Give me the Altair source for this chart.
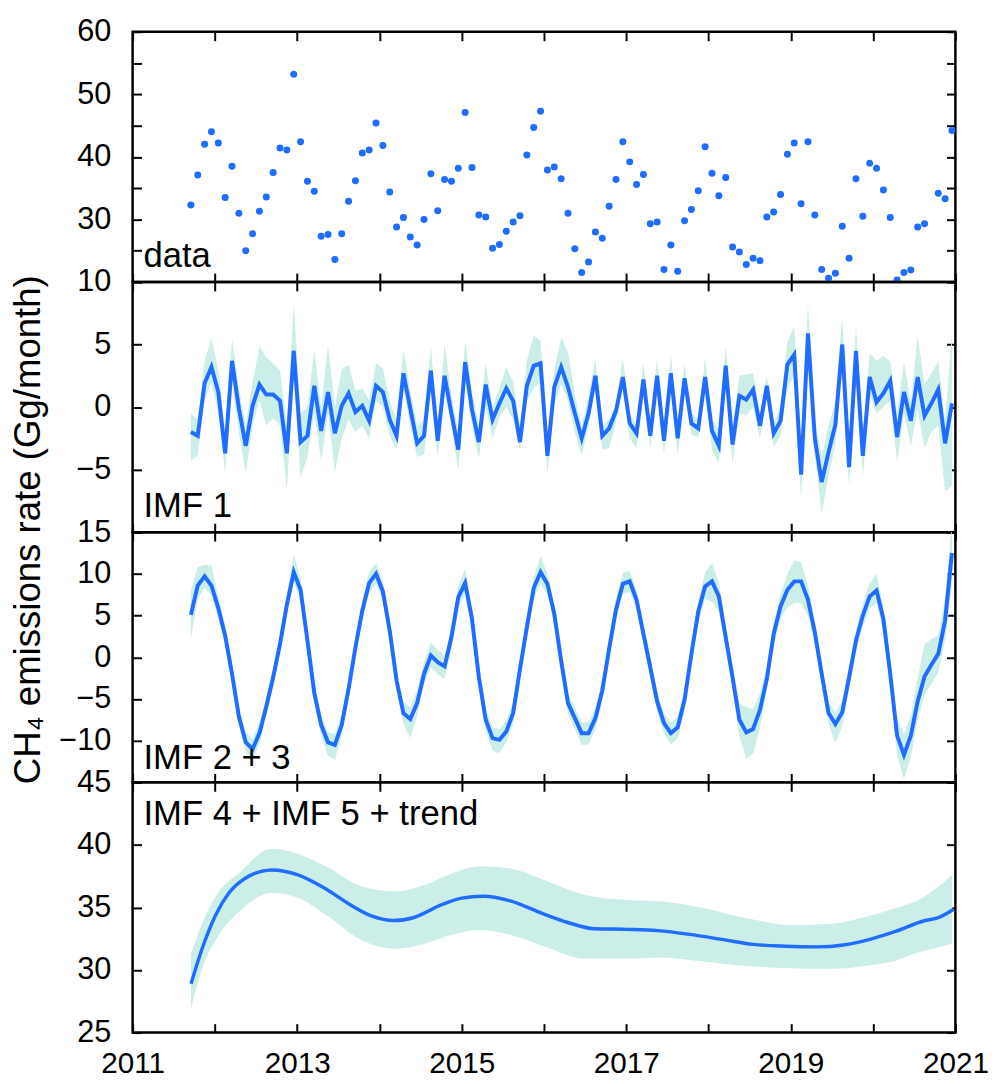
import altair as alt
import pandas as pd

# ---------------- data ----------------
N_MONTHS = 112  # Sep 2011 .. Dec 2020
months = pd.date_range("2011-09-01", periods=N_MONTHS, freq="MS")
t_dec = [d.year + (d.month - 0.5) / 12 for d in months]

data_vals = [
    32.3, 37.1, 42.0, 44.0, 42.2, 33.5, 38.5, 31.0, 25.0, 27.7,
    31.3, 33.6, 37.5, 41.4, 41.1, 53.2, 42.4, 36.1, 34.5, 27.3,
    27.6, 23.6, 27.7, 32.9, 36.2, 40.6, 41.1, 45.4, 41.8, 34.4,
    28.8, 30.3, 27.2, 25.9, 30.0, 37.3, 31.4, 36.4, 36.1, 38.2,
    47.1, 38.3, 30.7, 30.4, 25.4, 26.0, 28.1, 29.6, 30.6, 40.3,
    44.7, 47.3, 37.9, 38.4, 36.5, 31.0, 25.3, 21.5, 23.2, 28.0,
    27.0, 32.1, 36.4, 42.4, 39.2, 35.6, 37.2, 29.3, 29.6, 22.0,
    25.9, 21.7, 29.8, 31.6, 34.6, 41.6, 37.4, 33.8, 36.7, 25.6,
    24.8, 22.8, 23.8, 23.4, 30.4, 31.2, 34.0, 40.4, 42.2, 32.5,
    42.4, 30.7, 22.0, 20.6, 21.4, 28.9, 23.8, 36.5, 30.5, 39.0,
    38.2, 34.7, 30.3, 20.3, 21.5, 21.9, 28.8, 29.3, None, 34.2,
    33.3, 44.2,
]

imf1 = [
    -2.0, -2.3, 1.9, 3.2, 1.2, -3.7, 3.7, -0.1, -3.1, 0.1,
    1.8, 1.0, 1.0, 0.5, -3.7, 4.5, -2.8, -2.3, 1.7, -1.9,
    1.2, -2.1, 0.1, 1.1, -0.4, 0.1, -1.1, 1.7, 1.2, -1.0,
    -2.3, 2.7, -0.1, -2.9, -2.3, 2.9, -2.7, 2.5, -0.5, -3.4,
    3.6, -0.2, -2.8, 1.8, -1.0, 0.3, 1.5, 0.5, -2.8, 1.7,
    3.3, 3.5, -3.9, 1.6, 3.2, 1.6, -0.5, -2.5, -0.5, 2.5,
    -2.3, -1.7, -0.3, 2.4, -1.3, -2.1, 2.2, -2.3, 2.5, -2.7,
    2.7, -2.5, 2.3, -1.3, -1.7, 2.4, -1.9, -3.1, 3.3, -3.0,
    0.9, 0.6, 1.4, -1.5, 1.7, -2.1, -1.1, 3.4, 4.2, -5.4,
    5.9, -2.5, -6.0, -3.6, -1.4, 5.0, -4.8, 4.5, -3.9, 2.4,
    0.4, 1.1, 2.1, -2.4, 1.2, -1.1, 2.4, -0.7, 0.3, 1.4,
    -2.9, 0.3,
]
imf1_hi = [
    -0.5, -1.0, 3.7, 5.5, 3.0, -2.0, 5.5, 1.5, -1.5, 2.0,
    4.8, 4.0, 3.5, 2.9, -1.5, 8.3, -0.5, 0.0, 4.6, 0.0,
    4.9, 0.0, 3.0, 3.4, 1.3, 1.5, 0.5, 3.5, 3.1, 0.5,
    -1.0, 4.6, 1.4, -1.5, -1.0, 4.9, -1.5, 5.0, 1.0, -2.0,
    5.3, 1.3, -1.5, 3.5, 0.0, 1.5, 3.2, 2.0, -1.5, 3.7,
    5.7, 5.3, -2.5, 3.0, 5.5, 4.4, 1.0, -1.5, 0.8, 3.9,
    -1.5, -1.0, 0.2, 3.9, -0.5, -1.5, 3.6, -1.5, 3.9, -1.8,
    4.2, -1.5, 3.5, -0.5, -1.0, 3.9, -1.0, -1.8, 4.9, -1.5,
    2.5, 2.6, 2.7, -0.5, 2.5, -1.3, 0.0, 5.2, 6.5, -3.0,
    8.2, -1.0, -4.0, -1.5, 0.5, 7.3, -3.0, 6.4, -2.0, 4.3,
    3.7, 4.1, 3.6, -0.5, 3.6, 0.3, 5.7, 1.8, 2.7, 3.6,
    -1.0, 5.9,
]
imf1_lo = [
    -4.3, -3.9, 0.5, 2.0, -0.5, -5.3, 2.0, -2.0, -5.3, -1.5,
    0.5, -1.5, -0.9, -1.5, -6.6, 2.5, -5.6, -4.0, -0.5, -4.3,
    -0.5, -5.2, -2.5, -1.0, -2.0, -1.5, -2.5, 0.5, 0.0, -2.3,
    -3.4, 1.5, -1.5, -4.0, -3.8, 1.3, -4.0, 1.0, -1.5, -5.1,
    2.0, -1.5, -4.1, 0.0, -2.5, -0.8, 0.0, -1.0, -3.5, 0.5,
    1.5, 2.0, -5.3, 0.3, 1.8, 0.5, -2.0, -3.9, -1.5, 1.5,
    -3.4, -3.3, -1.2, 1.5, -2.5, -3.3, 1.0, -3.4, 1.2, -3.8,
    1.5, -3.8, 1.0, -2.2, -2.4, 1.0, -3.4, -4.6, 1.5, -4.5,
    -0.5, -0.7, 0.0, -2.5, 0.8, -3.2, -2.3, 1.5, 2.5, -7.4,
    3.5, -4.0, -8.5, -5.5, -3.0, 3.0, -6.3, 2.5, -5.6, 1.0,
    -0.5, 0.0, 0.5, -4.4, -0.5, -3.1, -0.2, -3.3, -2.0, -1.5,
    -6.7, -6.3,
]

imf23 = [
    5.1, 8.6, 9.7, 8.6, 5.9, 2.6, -2.0, -7.1, -10.2, -11.0,
    -9.1, -5.9, -2.4, 1.6, 6.3, 10.2, 8.1, 2.0, -4.3, -8.1,
    -10.2, -10.5, -8.1, -3.8, 1.2, 5.6, 8.9, 10.0, 7.9, 3.2,
    -2.8, -6.7, -7.4, -5.5, -2.0, 0.2, -0.6, -1.1, 2.4, 7.2,
    8.9, 4.6, -2.4, -7.5, -9.7, -9.9, -8.9, -6.7, -1.4, 3.6,
    8.3, 10.2, 8.8, 5.2, -0.4, -5.5, -7.3, -9.1, -9.1, -7.3,
    -4.0, 1.0, 5.7, 8.8, 9.1, 6.9, 2.8, -1.2, -5.3, -7.9,
    -9.1, -8.4, -5.1, 0.4, 5.5, 8.5, 9.1, 7.3, 2.4, -2.4,
    -7.5, -9.0, -8.6, -6.3, -2.6, 2.8, 6.1, 8.1, 9.1, 9.1,
    6.9, 3.0, -2.0, -6.7, -8.0, -6.6, -2.4, 2.0, 5.0, 7.3,
    8.0, 4.6, -2.0, -9.4, -11.7, -9.4, -5.3, -2.3, -0.9, 0.4,
    4.4, 12.5,
]
imf23_hi = [
    8.0, 10.8, 11.1, 11.0, 7.3, 3.8, -0.8, -6.0, -9.0, -9.8,
    -7.8, -4.7, -1.2, 2.8, 7.5, 12.3, 9.5, 3.2, -3.1, -6.9,
    -9.0, -9.2, -6.9, -2.6, 2.4, 6.8, 10.2, 11.3, 9.1, 4.4,
    -1.6, -5.3, -6.0, -4.0, -0.6, 1.8, 0.9, 0.2, 3.7, 8.6,
    10.6, 5.9, -1.1, -6.2, -8.4, -8.6, -7.6, -5.4, -0.1, 4.9,
    9.6, 12.1, 10.0, 6.4, 0.8, -4.3, -6.0, -7.8, -7.8, -6.0,
    -2.7, 2.3, 7.0, 10.1, 10.3, 8.1, 4.0, 0.0, -4.1, -6.7,
    -7.8, -7.2, -3.9, 1.6, 6.8, 10.2, 11.3, 9.0, 3.8, -1.0,
    -5.5, -6.0, -6.2, -4.3, -1.0, 4.2, 7.6, 10.0, 11.6, 11.4,
    8.6, 4.4, -0.7, -5.4, -6.6, -5.2, -1.0, 3.3, 6.4, 8.9,
    10.0, 6.0, -0.5, -7.3, -9.2, -7.0, -2.5, 1.6, 2.2, 2.6,
    7.1, 16.0,
]
imf23_lo = [
    2.2, 7.0, 8.3, 7.4, 4.6, 1.4, -3.2, -8.3, -11.4, -12.4,
    -10.4, -7.1, -3.6, 0.4, 5.1, 9.0, 6.9, 0.8, -5.5, -9.4,
    -11.8, -12.3, -9.4, -5.0, 0.0, 4.4, 7.7, 8.8, 6.7, 2.0,
    -4.0, -8.0, -9.7, -7.0, -3.2, -1.2, -2.0, -2.6, 1.0, 5.9,
    7.6, 3.3, -3.7, -8.8, -11.2, -11.5, -10.2, -8.0, -2.7, 2.3,
    7.0, 8.8, 7.5, 4.0, -1.6, -6.8, -8.6, -10.5, -10.5, -8.6,
    -5.3, -0.3, 4.5, 7.6, 7.8, 5.7, 1.6, -2.4, -6.5, -9.2,
    -10.5, -9.7, -6.4, -0.8, 4.2, 7.0, 6.7, 5.5, 1.0, -3.8,
    -9.5, -12.2, -11.5, -8.5, -4.0, 1.4, 4.6, 6.0, 6.5, 6.5,
    5.0, 1.6, -3.2, -8.0, -10.3, -8.2, -3.8, 0.7, 3.6, 5.9,
    6.5, 3.0, -3.5, -11.8, -14.6, -12.0, -7.5, -4.5, -3.2, -1.8,
    2.0, 8.5,
]

# IMF 4 + IMF 5 + trend (smooth curve, read at irregular dates)
trend_t = [2011.71, 2011.85, 2012.01, 2012.17, 2012.36, 2012.69, 2013.01, 2013.33,
           2013.65, 2013.91, 2014.17, 2014.42, 2014.75, 2015.0, 2015.26, 2015.58,
           2015.97, 2016.29, 2016.61, 2017.0, 2017.38, 2017.77, 2018.16, 2018.54,
           2018.93, 2019.32, 2019.64, 2019.96, 2020.28, 2020.6, 2020.8, 2020.98]
trend_v = [28.9, 31.8, 34.4, 36.15, 37.3, 38.0, 37.6, 36.55,
           35.2, 34.3, 33.95, 34.2, 35.2, 35.75, 35.9, 35.55,
           34.55, 33.8, 33.3, 33.25, 33.15, 32.85, 32.45, 32.05,
           31.9, 31.85, 32.0, 32.45, 33.1, 33.9, 34.2, 34.85]
band_t = [2011.71, 2011.85, 2012.02, 2012.3, 2012.69, 2013.0, 2013.35, 2013.78,
          2014.2, 2014.55, 2014.87, 2015.22, 2015.6, 2016.0, 2016.5, 2017.0,
          2017.4, 2017.9, 2018.5, 2019.0, 2019.5, 2019.88, 2020.25, 2020.55,
          2020.78, 2020.96]
band_hi = [31.3, 33.8, 36.0, 37.8, 39.7, 39.3, 38.3, 36.7,
           36.3, 36.8, 37.7, 38.3, 38.1, 37.2, 36.0, 35.6,
           35.5, 35.0, 34.1, 33.6, 33.7, 34.2, 34.9, 35.6,
           36.6, 37.6]
band_lo = [26.9, 30.2, 32.5, 34.7, 36.15, 35.8, 34.4, 32.4,
           31.7, 32.1, 32.8, 33.2, 32.8, 31.9, 30.9, 30.9,
           31.0, 30.7, 30.3, 30.15, 30.1, 30.3, 30.7, 31.4,
           31.8, 32.1]

year_ticks = list(range(2011, 2022))
panel_names = ["data", "IMF 1", "IMF 2 + 3", "IMF 4 + IMF 5 + trend"]

# ---------------- styling ----------------
BLUE = "#1f6cff"
BAND = "#cbeee9"
FONT = "Liberation Sans"
W, H = 832, 253
TICK = 9

df_data = pd.DataFrame({"t": t_dec, "v": data_vals})
df_imf1 = pd.DataFrame({"t": t_dec, "v": imf1, "lo": imf1_lo, "hi": imf1_hi})
df_imf23 = pd.DataFrame({"t": t_dec, "v": imf23, "lo": imf23_lo, "hi": imf23_hi})
df_trend = pd.DataFrame({"t": trend_t, "v": trend_v})
df_band = pd.DataFrame({"t": band_t, "lo": band_lo, "hi": band_hi})
one = pd.DataFrame({"a": [0]})

xscale = alt.Scale(domain=[2011, 2021], nice=False, zero=False)


def x_axes(show_labels):
    bottom = alt.Axis(
        orient="bottom", values=year_ticks, format="d", grid=False, domain=False,
        ticks=True, tickSize=TICK, offset=-TICK, tickColor="black", tickWidth=2,
        labels=show_labels, labelExpr="datum.value % 2 == 1 ? datum.label : ''",
        labelFont=FONT, labelFontSize=30, labelColor="black", labelPadding=16,
        labelFlush=False, labelOverlap=False, title=None,
    )
    top = alt.Axis(
        orient="top", values=year_ticks, grid=False, domain=False, ticks=True,
        tickSize=TICK, offset=-TICK, tickColor="black", tickWidth=2,
        labels=False, title=None,
    )
    return bottom, top


def y_axes(ticks, label_expr, title=None):
    if title is not None:
        kw = dict(title=title, titleFont=FONT, titleFontSize=37, titleFontWeight="normal",
                  titleColor="black", titleAngle=270, titleX=-103, titleY=H - 3,
                  titleAlign="center", titleBaseline="alphabetic")
    else:
        kw = dict(title=None)
    left = alt.Axis(
        orient="left", values=ticks, grid=False, domain=False, ticks=True,
        tickSize=TICK, offset=-TICK, tickColor="black", tickWidth=2,
        labelExpr=label_expr, labelFont=FONT, labelFontSize=31, labelColor="black",
        labelPadding=22, labelFlush=False, labelOverlap=False, **kw,
    )
    right = alt.Axis(
        orient="right", values=ticks, grid=False, domain=False, ticks=True,
        tickSize=TICK, offset=-TICK, tickColor="black", tickWidth=2,
        labels=False, title=None,
    )
    return left, right


def label_layer(text, y_px):
    return alt.Chart(one).mark_text(
        font=FONT, fontSize=35, align="left", baseline="alphabetic", color="black"
    ).encode(x=alt.value(11), y=alt.value(y_px), text=alt.value(text))


# panel 1 : data points
yl, yr = y_axes(list(range(20, 61, 5)), "datum.value % 10 == 0 && datum.value > 20 ? datum.label : ''")
xb, xt = x_axes(False)
ys1 = alt.Scale(domain=[20, 60], nice=False, zero=False)
p1 = alt.layer(
    alt.Chart(df_data).mark_circle(size=50, color=BLUE, opacity=1, clip=True).encode(
        x=alt.X("t:Q", scale=xscale, axis=xb), y=alt.Y("v:Q", scale=ys1, axis=yl)),
    alt.Chart(df_data).mark_circle(size=50, color=BLUE, opacity=0, clip=True).encode(
        x=alt.X("t:Q", scale=xscale, axis=xt), y=alt.Y("v:Q", scale=ys1, axis=yr)),
    label_layer(panel_names[0], H - 15),
).resolve_axis(x="independent", y="independent").properties(width=W, height=H)


def imf_panel(df, dom, ticks, expr, name, label_y, title=None, xlabels=False):
    yl, yr = y_axes(ticks, expr, title)
    xb, xt = x_axes(xlabels)
    ys = alt.Scale(domain=dom, nice=False, zero=False)
    band = alt.Chart(df).mark_area(color=BAND, opacity=1, clip=True).encode(
        x=alt.X("t:Q", scale=xscale, axis=xb),
        y=alt.Y("lo:Q", scale=ys, axis=yl), y2="hi:Q")
    line = alt.Chart(df).mark_line(color=BLUE, strokeWidth=4, clip=True).encode(
        x=alt.X("t:Q", scale=xscale, axis=xt),
        y=alt.Y("v:Q", scale=ys, axis=yr))
    return alt.layer(band, line, label_layer(name, label_y)).resolve_axis(
        x="independent", y="independent").properties(width=W, height=H)


p2 = imf_panel(df_imf1, [-10, 10], list(range(-10, 11, 5)),
               "datum.value > -10 ? datum.label : ''", panel_names[1], H - 15,
               title="CH\u2084 emissions rate (Gg/month)")
p3 = imf_panel(df_imf23, [-15, 15], list(range(-15, 16, 5)),
               "datum.value > -15 ? datum.label : ''", panel_names[2], H - 14)

# panel 4 : smooth trend
yl4, yr4 = y_axes(list(range(25, 46, 5)), "datum.label")
xb4, xt4 = x_axes(True)
ys4 = alt.Scale(domain=[25, 45], nice=False, zero=False)
p4 = alt.layer(
    alt.Chart(df_band).mark_area(color=BAND, opacity=1, interpolate="monotone", clip=True).encode(
        x=alt.X("t:Q", scale=xscale, axis=xb4),
        y=alt.Y("lo:Q", scale=ys4, axis=yl4), y2="hi:Q"),
    alt.Chart(df_trend).mark_line(color=BLUE, strokeWidth=3.5, interpolate="monotone", clip=True).encode(
        x=alt.X("t:Q", scale=xscale, axis=xt4),
        y=alt.Y("v:Q", scale=ys4, axis=yr4)),
    label_layer(panel_names[3], 43),
).resolve_axis(x="independent", y="independent").properties(width=W, height=H)

chart = alt.vconcat(p1, p2, p3, p4, spacing=0, bounds="flush").properties(
    padding={"left": 0, "top": 0, "right": 0, "bottom": 0},
    background="white",
).configure_view(stroke="black", strokeWidth=2.5)

chart.save("out.html", embed_options={"renderer": "svg", "actions": False})
